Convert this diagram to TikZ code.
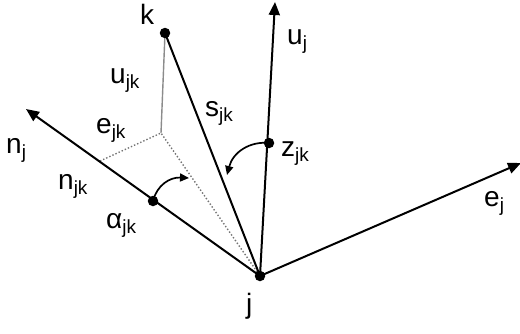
\documentclass[tikz,border=0pt]{standalone}
\usepackage{fontspec}
\setmainfont{Liberation Sans}
\usetikzlibrary{arrows.meta}
\newcommand\sbs[1]{\raisebox{-0.2em}{\fontsize{19}{19}\selectfont #1}}
\tikzset{
  axis/.style={line width=2pt, -{Triangle[length=13pt,width=11pt]}},
  mainline/.style={line width=2pt},
  thinline/.style={line width=1.4pt, black!45},
  dotline/.style={line width=1.4pt, black!55, dotted},
  dotnode/.style={circle, fill=black, inner sep=0pt, minimum size=10.5pt},
  lbl/.style={anchor=base west, inner sep=0pt, font=\fontsize{28}{32}\selectfont},
  arc/.style={line width=1.7pt, -{Triangle[length=9pt,width=8pt]}}
}
\begin{document}
\begin{tikzpicture}[x=1pt,y=-1pt]
\useasboundingbox (0,0) rectangle (520,333);
\coordinate (j) at (260,276);
\coordinate (k) at (165,33);
\coordinate (foot) at (161,133);
\coordinate (nfoot) at (100,161);
\coordinate (ntip) at (26,109);
\coordinate (utip) at (275,2);
\coordinate (etip) at (521,163);
\coordinate (aend) at (189,178);
\coordinate (zend) at (227,175);
% dotted projection
\draw[dotline] (nfoot) -- (foot) -- (j);
\draw[thinline] (k) -- (foot);
% axes
\draw[axis] (j) -- (ntip);
\draw[axis] (j) -- (utip);
\draw[axis] (j) -- (etip);
\draw[mainline] (j) -- (k);
% dots
\node[dotnode] (jd) at (j) {};
\node[dotnode] (kd) at (k) {};
\node[dotnode] (ad) at (153,201) {};
\node[dotnode] (zd) at (269,143) {};
% angle arcs
\draw[arc] (ad.center) .. controls (157,185) and (170,177) .. (aend);
\draw[arc] (zd.center) .. controls (250,141) and (233,152) .. (zend);
% labels
\node[lbl] (lk) at (140,24) {k};
\node[lbl] (lujk) at (110,83) {u\sbs{jk}};
\node[lbl] (lejk) at (96,133) {e\sbs{jk}};
\node[lbl] (lnj) at (6,153) {n\sbs{j}};
\node[lbl] (lnjk) at (58,189) {n\sbs{jk}};
\node[lbl] (lajk) at (106,228) {α\sbs{jk}};
\node[lbl] (lsjk) at (205,116) {s\sbs{jk}};
\node[lbl] (lzjk) at (281,156) {z\sbs{jk}};
\node[lbl] (luj) at (287,44) {u\sbs{j}};
\node[lbl] (lej) at (484,206) {e\sbs{j}};
\node[lbl] (lj) at (246,313) {j};
\end{tikzpicture}
\end{document}
